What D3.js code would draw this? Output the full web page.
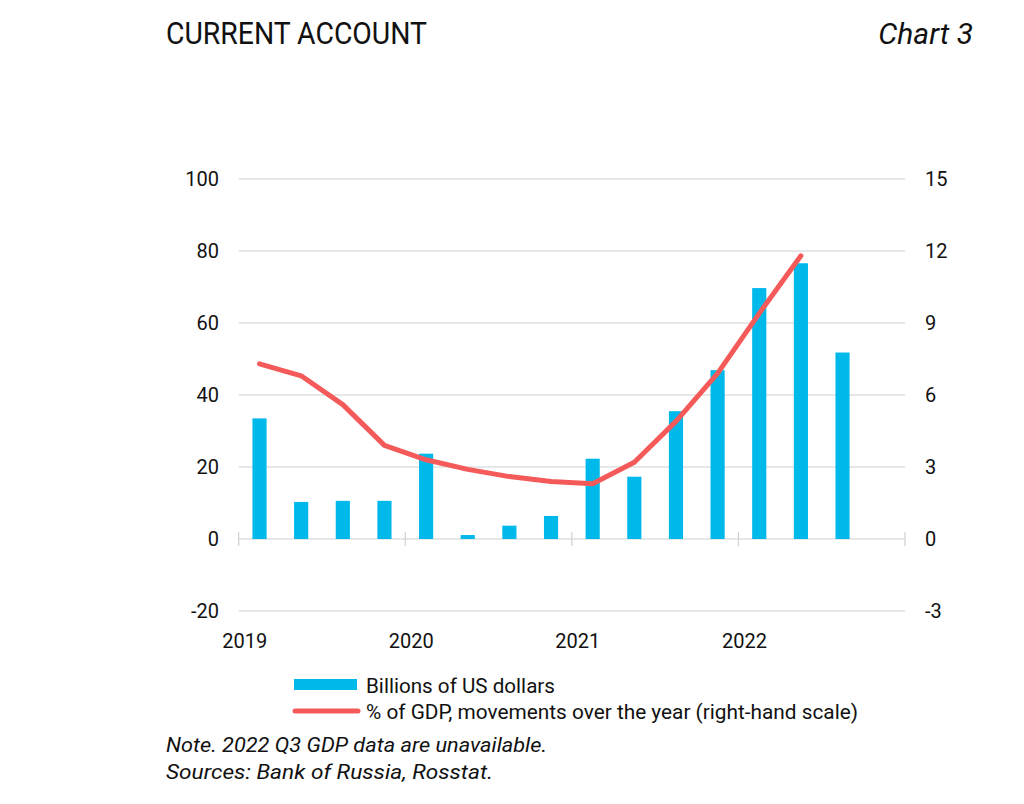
<!DOCTYPE html>
<html>
<head>
<meta charset="utf-8">
<script src="https://cdn.jsdelivr.net/npm/d3@7"></script>
<style>
body { margin: 0; background: #fff; }
text { font-family: "Roboto", "Liberation Sans", sans-serif; fill: #111; }
</style>
</head>
<body>
<svg id="chart" width="1024" height="804"></svg>
<script>
// quarters 2019 Q1 .. 2022 Q4 (last one has no data)
const quarters = ["2019Q1","2019Q2","2019Q3","2019Q4","2020Q1","2020Q2","2020Q3","2020Q4",
                  "2021Q1","2021Q2","2021Q3","2021Q4","2022Q1","2022Q2","2022Q3","2022Q4"];
const billionsUSD = [33.5, 10.3, 10.6, 10.6, 23.7, 1.1, 3.7, 6.4, 22.3, 17.3, 35.5, 46.9, 69.7, 76.6, 51.8];
const pctGDP = [7.3, 6.8, 5.6, 3.9, 3.3, 2.9, 2.6, 2.4, 2.3, 3.2, 4.9, 6.9, 9.4, 11.8];
const years = [2019, 2020, 2021, 2022];
const leftTicks = [-20, 0, 20, 40, 60, 80, 100];
const rightTicks = [-3, 0, 3, 6, 9, 12, 15];

const plotLeft = 238.7, plotRight = 905, plotTop = 179, plotBottom = 611;

const svg = d3.select("#chart");

const x = d3.scaleBand().domain(quarters).range([plotLeft, plotRight])
  .paddingInner(0.66).paddingOuter(0.33);
const xYear = d3.scaleLinear().domain([2019, 2023]).range([plotLeft, plotRight]);
const yL = d3.scaleLinear().domain([-20, 100]).range([plotBottom, plotTop]);
const yR = d3.scaleLinear().domain([-3, 15]).range([plotBottom, plotTop]);

// title
svg.append("text").attr("x", 166).attr("y", 44)
  .attr("textLength", 261).attr("lengthAdjust", "spacingAndGlyphs")
  .style("font-size", "31px").text("CURRENT ACCOUNT");
svg.append("text").attr("x", 973).attr("y", 44).attr("text-anchor", "end")
  .style("font-size", "30px").style("font-style", "italic").text("Chart 3");

// gridlines
svg.append("g").selectAll("line").data(leftTicks).join("line")
  .attr("x1", plotLeft).attr("x2", plotRight)
  .attr("y1", d => yL(d)).attr("y2", d => yL(d))
  .attr("stroke", "#d0d0d0").attr("stroke-width", 1.2);

// year ticks on zero line
svg.append("g").selectAll("line").data(d3.range(2019, 2024)).join("line")
  .attr("x1", d => xYear(d)).attr("x2", d => xYear(d))
  .attr("y1", yL(0) - 7).attr("y2", yL(0) + 7)
  .attr("stroke", "#d0d0d0").attr("stroke-width", 1.2);

// left axis labels
svg.append("g").selectAll("text").data(leftTicks).join("text")
  .attr("x", 219).attr("y", d => yL(d) + 7).attr("text-anchor", "end")
  .style("font-size", "20px").text(d => d);

// right axis labels
svg.append("g").selectAll("text").data(rightTicks).join("text")
  .attr("x", 925).attr("y", d => yR(d) + 7).attr("text-anchor", "start")
  .style("font-size", "20px").text(d => d);

// year labels
svg.append("g").selectAll("text").data(years).join("text")
  .attr("x", d => xYear(d) + 6).attr("y", 648).attr("text-anchor", "middle")
  .style("font-size", "20px").text(d => d);

// bars
svg.append("g").selectAll("rect").data(billionsUSD).join("rect")
  .attr("x", (d, i) => x(quarters[i]))
  .attr("width", x.bandwidth())
  .attr("y", d => yL(Math.max(0, d)))
  .attr("height", d => Math.abs(yL(d) - yL(0)))
  .attr("fill", "#00b9eb");

// line
const line = d3.line()
  .x((d, i) => x(quarters[i]) + x.bandwidth() / 2)
  .y(d => yR(d));
svg.append("path").datum(pctGDP)
  .attr("d", line)
  .attr("fill", "none")
  .attr("stroke", "#f55a5a")
  .attr("stroke-width", 5)
  .attr("stroke-linecap", "round")
  .attr("stroke-linejoin", "round");

// legend
const lg = svg.append("g");
lg.append("rect").attr("x", 294).attr("y", 679).attr("width", 63).attr("height", 11).attr("fill", "#00b9eb");
lg.append("text").attr("x", 366).attr("y", 693).style("font-size", "21px")
  .attr("textLength", 189).attr("lengthAdjust", "spacingAndGlyphs")
  .text("Billions of US dollars");
lg.append("line").attr("x1", 295).attr("x2", 358).attr("y1", 711).attr("y2", 711)
  .attr("stroke", "#f55a5a").attr("stroke-width", 5).attr("stroke-linecap", "round");
lg.append("text").attr("x", 366).attr("y", 719).style("font-size", "21px")
  .attr("textLength", 492).attr("lengthAdjust", "spacingAndGlyphs")
  .text("% of GDP, movements over the year (right-hand scale)");

// notes
svg.append("text").attr("x", 166).attr("y", 752).style("font-size", "21px").style("font-style", "italic")
  .attr("textLength", 381).attr("lengthAdjust", "spacingAndGlyphs")
  .text("Note. 2022 Q3 GDP data are unavailable.");
svg.append("text").attr("x", 166).attr("y", 779).style("font-size", "21px").style("font-style", "italic")
  .attr("textLength", 327).attr("lengthAdjust", "spacingAndGlyphs")
  .text("Sources: Bank of Russia, Rosstat.");
</script>
</body>
</html>
